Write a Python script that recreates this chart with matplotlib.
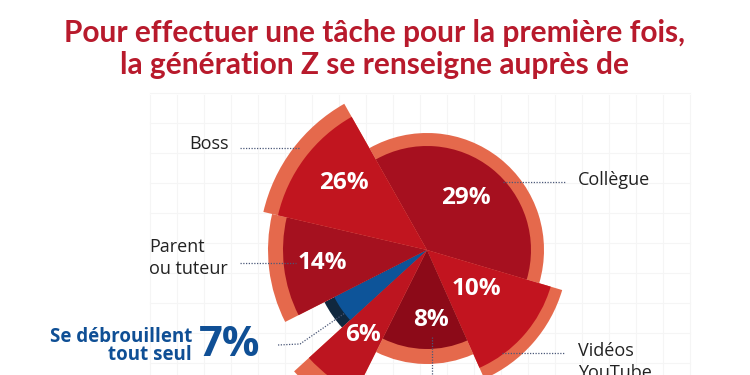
import numpy as np
import matplotlib
matplotlib.use("Agg")
import matplotlib.pyplot as plt
from matplotlib.patches import Wedge

# data (clockwise from the Boss/Collègue edge)
categories = ["Collègue", "Vidéos\nYouTube", "", "", "Se débrouillent\ntout seul", "Parent\nou tuteur", "Boss"]
values = [29, 10, 8, 6, 7, 14, 26]

# the drawn slices are not proportional to the values, so keep their spans apart
slice_deg = [136, 49.5, 50.6, 21, 15.5, 40, 47.4]
start_deg = 119.5
r_outer = [117, 141, 114, 180, 115, 159, 168]
ring_w = [13, 12, 15, 20, 11, 15, 15]
fill_col = ["#a6101f", "#c2141f", "#8c0a18", "#bd1520", "#0d5499", "#a5111f", "#c1151f"]
ring_col = ["#e5694c", "#e5694c", "#e5694c", "#e5694c", "#10283f", "#e5694c", "#e5694c"]
# where the % labels sit (radius, angle)
lab_r = [65, 63, 70, 106, 0, 105, 107]
lab_a = [53, -38, -87, -127, 0, 187, 141.4]

center = (427, 125)  # pixel coords, y measured upward

fig = plt.figure(figsize=(7.5, 3.75), dpi=100)
ax = fig.add_axes([0, 0, 1, 1])
ax.set_xlim(0, 750)
ax.set_ylim(0, 375)
ax.set_aspect("equal")
ax.axis("off")

# faint background grid
for gx in np.arange(150, 700, 27):
    ax.plot([gx, gx], [0, 280], color="#f5f5f5", lw=0.8, zorder=0)
for gy in np.arange(12, 290, 30):
    ax.plot([150, 690], [gy, gy], color="#f5f5f5", lw=0.8, zorder=0)

# wedges
t2 = start_deg
for i in range(len(values)):
    t1 = t2 - slice_deg[i]
    ax.add_patch(Wedge(center, r_outer[i], t1, t2, facecolor=ring_col[i], edgecolor="none", zorder=2))
    ax.add_patch(Wedge(center, r_outer[i] - ring_w[i], t1, t2, facecolor=fill_col[i], edgecolor="none", zorder=3))
    t2 = t1

# percentage labels inside the slices (blue one is written outside)
for i in range(len(values)):
    if i == 4:
        continue
    a = np.deg2rad(lab_a[i])
    x = center[0] + lab_r[i] * np.cos(a)
    y = center[1] + lab_r[i] * np.sin(a)
    ax.text(x, y, f"{values[i]}%", color="white", fontsize=17.5, fontweight="bold",
            family="Open Sans", ha="center", va="center", zorder=5)

dot = dict(color="#4b5878", lw=0.9, linestyle=(0, (1, 1.2)), zorder=6)
lab = dict(fontsize=13, family="Open Sans", color="#222222", va="center")

# category labels and leader lines
ax.plot([503, 566], [193, 193], **dot)
ax.text(578, 195, categories[0], **lab)

ax.plot([502, 564], [22, 22], **dot)
ax.text(578, 13, categories[1], linespacing=1.35, **lab)

ax.plot([240, 300], [227, 227], **dot)
ax.text(229, 231, categories[6], ha="right", **lab)

ax.plot([240, 296], [112, 112], **dot)
ax.text(149, 117, categories[5], linespacing=1.35, **lab)

ax.plot([432, 432], [38, 0], **dot)

# self-reliant group, highlighted in blue
ax.plot([278, 300, 345], [30, 31, 62], **dot)
ax.text(192, 29, categories[4], fontsize=13.5, fontweight="bold", family="Open Sans", color="#0f4f95",
        ha="right", va="center", linespacing=0.85)
ax.text(199, 29, f"{values[4]}%", fontsize=30, fontweight="bold", family="Open Sans", color="#0f4f95",
        ha="left", va="center")

# title
ax.text(375, 326, "Pour effectuer une tâche pour la première fois,\nla génération Z se renseigne auprès de",
        fontsize=21.5, fontweight="bold", family="Lato", color="#b81a2c", ha="center", va="center",
        linespacing=1.15)

fig.savefig("out.png", dpi=100, facecolor="white")
